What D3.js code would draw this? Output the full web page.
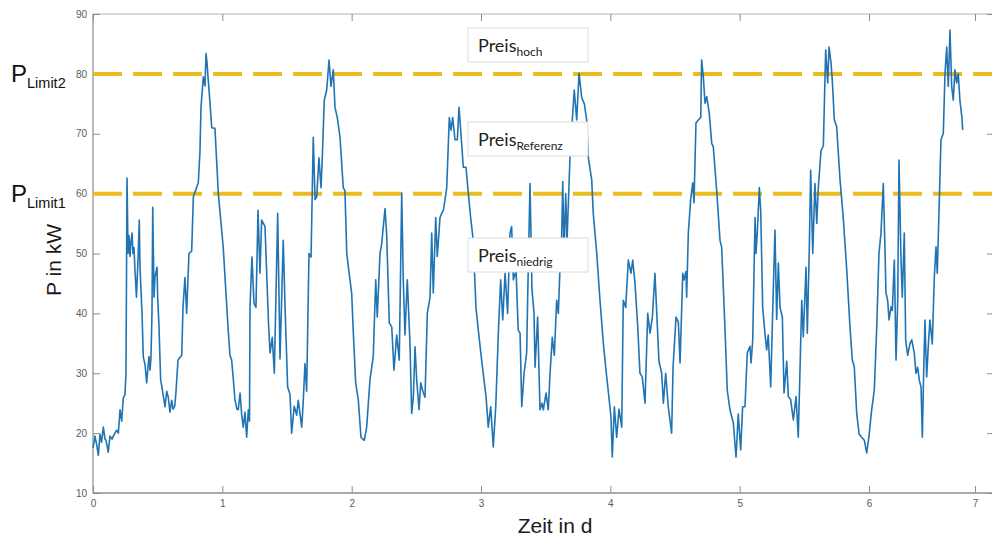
<!DOCTYPE html>
<html>
<head>
<meta charset="utf-8">
<script src="https://cdn.jsdelivr.net/npm/d3@7"></script>
<style>
    html, body { margin: 0; padding: 0; background: #fff; }
    .chart { width: 992px; height: 537px; }
</style>
</head>
<body>
<div class="chart"></div>
<script>
// Lastgang: Zeit in Tagen / Leistung in kW
var timeDays = [
    0.000, 0.015, 0.029, 0.041, 0.054, 0.066, 0.080, 0.093, 0.101, 0.118,
    0.131, 0.147, 0.157, 0.170, 0.183, 0.196, 0.209, 0.222, 0.234, 0.247,
    0.255, 0.263, 0.271, 0.278, 0.286, 0.294, 0.302, 0.309, 0.317, 0.325,
    0.336, 0.348, 0.358, 0.363, 0.371, 0.379, 0.389, 0.402, 0.415, 0.425,
    0.433, 0.441, 0.448, 0.456, 0.462, 0.472, 0.479, 0.495, 0.500, 0.510,
    0.523, 0.534, 0.557, 0.570, 0.582, 0.595, 0.609, 0.619, 0.632, 0.642,
    0.657, 0.686, 0.696, 0.711, 0.724, 0.742, 0.763, 0.776, 0.814, 0.827,
    0.835, 0.853, 0.866, 0.874, 0.881, 0.891, 0.905, 0.918, 0.943, 0.969,
    1.007, 1.046, 1.059, 1.072, 1.085, 1.098, 1.113, 1.123, 1.137, 1.150,
    1.162, 1.175, 1.188, 1.201, 1.210,
    1.214, 1.229, 1.245, 1.260, 1.276, 1.291, 1.304, 1.330, 1.343, 1.357,
    1.369, 1.386, 1.402, 1.428, 1.446, 1.471, 1.485, 1.505, 1.523, 1.536,
    1.556, 1.575, 1.587, 1.614, 1.626, 1.639, 1.652, 1.670, 1.686, 1.703,
    1.717, 1.730, 1.747, 1.763, 1.773, 1.788, 1.807, 1.825, 1.840, 1.858,
    1.871, 1.889, 1.910, 1.935, 1.948, 1.962, 1.987, 2.000, 2.013, 2.031,
    2.051, 2.072, 2.098, 2.116, 2.142, 2.167, 2.186, 2.198, 2.219, 2.232,
    2.258, 2.271, 2.291, 2.310, 2.327, 2.348, 2.368, 2.387, 2.399, 2.412,
    2.430, 2.451, 2.464, 2.477, 2.490, 2.503, 2.521, 2.534, 2.554, 2.567,
    2.585, 2.606, 2.619, 2.631, 2.650, 2.662, 2.683, 2.696, 2.709, 2.722,
    2.735, 2.755, 2.768, 2.781, 2.799, 2.817, 2.830, 2.845, 2.863, 2.884,
    2.902, 2.920, 2.940, 2.961, 2.979, 3.005, 3.023, 3.039, 3.056, 3.075,
    3.095, 3.114, 3.134, 3.152, 3.168, 3.186, 3.206, 3.224, 3.237, 3.250,
    3.271, 3.288, 3.302, 3.315, 3.333, 3.353, 3.363,
    3.379, 3.394, 3.410, 3.418, 3.438, 3.456, 3.472, 3.482, 3.503, 3.520,
    3.534, 3.551, 3.567, 3.585, 3.598, 3.611, 3.621, 3.632, 3.642, 3.655,
    3.665, 3.688, 3.706, 3.721, 3.740, 3.758, 3.779, 3.799, 3.817, 3.830,
    3.856, 3.868, 3.895, 3.920, 3.946, 3.964, 3.984, 4.005, 4.015, 4.031,
    4.049, 4.067, 4.088, 4.100, 4.119, 4.139, 4.160, 4.173, 4.191, 4.212,
    4.229, 4.247, 4.268, 4.289, 4.307, 4.325, 4.345, 4.359, 4.376, 4.397,
    4.410, 4.428, 4.448, 4.474, 4.485,
    4.508, 4.526, 4.539, 4.560, 4.570, 4.585, 4.590, 4.603, 4.621, 4.637,
    4.647, 4.662, 4.680, 4.699, 4.706, 4.719, 4.732, 4.745, 4.765, 4.784,
    4.796, 4.822, 4.848, 4.861, 4.887, 4.904, 4.925, 4.951, 4.972, 4.989,
    5.008, 5.023, 5.041, 5.059, 5.080, 5.088, 5.101, 5.119, 5.126, 5.136,
    5.152, 5.163, 5.178, 5.196, 5.209, 5.221, 5.240, 5.255, 5.273, 5.286,
    5.299, 5.312, 5.330, 5.343, 5.364, 5.376, 5.394, 5.415, 5.436, 5.453,
    5.467, 5.480, 5.492, 5.513, 5.523, 5.538, 5.549, 5.565, 5.582, 5.596,
    5.608, 5.629, 5.647, 5.665, 5.681, 5.691, 5.706, 5.716, 5.732, 5.750,
    5.776, 5.801, 5.828, 5.853, 5.871, 5.886, 5.905, 5.923, 5.943, 5.964,
    5.982, 6.000, 6.025, 6.050, 6.073, 6.094, 6.113, 6.135, 6.151, 6.160,
    6.176, 6.189, 6.208, 6.220, 6.239, 6.255, 6.271, 6.283, 6.302, 6.314,
    6.333, 6.346, 6.365, 6.387, 6.403, 6.427, 6.443, 6.459, 6.475, 6.491,
    6.503, 6.516, 6.528, 6.544, 6.559, 6.575, 6.597, 6.616, 6.632, 6.644,
    6.660, 6.679, 6.701, 6.717, 6.733, 6.748, 6.764, 6.780, 6.795, 6.811,
    6.827, 6.842, 6.858, 6.875, 6.884
];
var powerKW = [
    17.5, 19.5, 18, 16.3, 19.8, 18.5, 21, 19, 18.8, 16.8,
    19.5, 19, 19.5, 20, 20.5, 20, 23.9, 22, 25.9, 26.4,
    30, 62.6, 50, 53, 49.5, 52, 53.4, 50, 51, 47,
    42.7, 49, 55.6, 48, 44, 40, 32.7, 31.5, 28.4, 31,
    32.8, 30.5, 32.5, 40, 57.7, 42.7, 46, 47.7, 42.7, 38,
    28.9, 27.5, 24.4, 27, 26, 23.5, 25.5, 24, 24.5, 27,
    32.2, 33, 41, 46, 40, 50, 50.4, 59.5, 61.8, 67,
    74.4, 79.5, 78, 83.4, 82, 79, 75, 71, 70.9, 60,
    51, 37, 33, 32.2, 29, 25.5, 24, 23.9, 26.7, 23,
    21, 23.5, 19.3, 23.9, 22,
    41, 49.4, 41.7, 41, 57.2, 46.7, 55.6, 54.5, 46.7, 38.4,
    33.4, 36, 30, 56.7, 32.4, 52.2, 41, 27.7, 26.5, 20,
    24.5, 23, 25.5, 21, 25.5, 31.6, 27, 50, 49.4, 69.4,
    59, 59.5, 66, 61, 66, 75.6, 77.3, 82.3, 77.9, 80.7,
    74.4, 72.7, 69.4, 61, 60.5, 50, 45.6, 43.4, 36.7, 28.4,
    25.6, 19.3, 18.8, 21, 29, 32.8, 45.6, 39.4, 50, 51.6,
    57.5, 53, 38.4, 37.7, 30.5, 36.4, 32.2, 60.1, 45.6, 36.4,
    45.6, 34.9, 23.3, 26.1, 34.4, 28.8, 23.9, 28.4, 26.7, 26,
    40, 42.7, 53.4, 43.4, 56, 49.5, 56, 56.7, 57.2, 59,
    61, 72.7, 70.6, 72.7, 69, 69, 74.4, 70, 64.4, 64.4,
    60, 56, 52.2, 41, 37.2, 32.2, 28.9, 26.1, 21, 24.4,
    17.7, 24.4, 36.7, 45.6, 38.9, 46.7, 40, 53.4, 54.5, 45.6,
    47.2, 37.2, 36.7, 24.4, 30, 33.4, 45,
    61.7, 44, 40, 31, 39.4, 23.9, 25, 23.9, 26.7, 23.9,
    30, 36, 33, 42.2, 40, 47.7, 50, 62, 50, 60,
    52, 66, 72.3, 77.3, 72.3, 80.1, 76, 75, 72.3, 66,
    62.3, 56.7, 50, 42.2, 35, 31, 27, 22.7, 16, 24.4,
    19.3, 24, 21, 42.2, 41, 48.9, 46.7, 48.9, 45, 37.7,
    30, 29.4, 25, 40, 36.7, 39.4, 46.7, 40, 32, 30,
    25, 30, 24.4, 20, 31,
    39.4, 38.5, 31.7, 46.7, 45.6, 47, 42.7, 53.4, 59, 61.8,
    58.5, 71.8, 72.3, 72.7, 82.3, 79.5, 75.1, 76.2, 73.4, 68.4,
    67.8, 60.6, 52.2, 51, 37.2, 27.2, 23.9, 21.7, 16, 23.2,
    17.2, 24.4, 24.4, 33.4, 34.5, 31.7, 35.6, 56, 50, 53.4,
    61, 57, 41, 36.5, 33.9, 36.4, 27.7, 40, 53.9, 39,
    48.4, 41, 39.4, 26.7, 32, 26.1, 25.6, 22.2, 26.1, 19.3,
    31, 42.2, 36.1, 47.7, 36.7, 50.4, 63.9, 50, 61.7, 55,
    61, 67.2, 68, 84, 78.5, 84.5, 81.9, 79, 72.3, 71.2,
    62.3, 56, 47.2, 37.7, 32.2, 31.1, 23.3, 19.9, 19.3, 18.8,
    16.7, 19.5, 23.9, 27.2, 37.7, 50, 53.4, 61.7, 50.6, 43.4,
    42.2, 38.9, 41.1, 40.5, 48.9, 32.2, 42.2, 65.6, 48.9, 42.7,
    53.4, 35.5, 33, 35, 35.6, 33.4, 30, 31, 28.8, 27.7,
    19.3, 30.5, 38.9, 29.4, 34.4, 38.9, 34.9, 46, 51.1, 46.7,
    56.7, 69, 70.1, 80.1, 84.5, 77.9, 87.3, 77.9, 75.6, 80.7,
    78.5, 80, 75.5, 73, 70.6
];

var xTickValues = [0, 1, 2, 3, 4, 5, 6, 7];
var yTickValues = [10, 20, 30, 40, 50, 60, 70, 80, 90];
var limitValues = [80, 60];
var limitNames = ['Limit2', 'Limit1'];
var priceNames = ['hoch', 'Referenz', 'niedrig'];

var svgWidth = 992,
    svgHeight = 537;
// Plotbereich
var leftMove = 93,
    topMove = 14,
    plotBottom = 493,
    plotRight = 993;

var axisColor = '#9a9a9a',
    labelFont = '"Liberation Sans", Arial, sans-serif';

var svg = d3.select('.chart')
    .append('svg')
    .attr('width', svgWidth)
    .attr('height', svgHeight)
    .style('font-family', labelFont);

// x: im Bild liegen Tag 6..7 enger als die anderen Tage
var xScale = d3.scaleLinear()
    .domain([0, 6, 7])
    .range([leftMove, 869, 975]);
var yScale = d3.scaleLinear()
    .domain([10, 90])
    .range([plotBottom, topMove]);

// Rahmen
svg.append('rect')
    .attr('x', leftMove)
    .attr('y', topMove)
    .attr('width', plotRight - leftMove)
    .attr('height', plotBottom - topMove)
    .style('fill', 'none')
    .style('stroke', '#b4b4b4');
svg.append('line')
    .attr('x1', leftMove).attr('x2', plotRight)
    .attr('y1', plotBottom).attr('y2', plotBottom)
    .style('stroke', axisColor)
    .style('stroke-width', 1.5);
svg.append('line')
    .attr('x1', leftMove).attr('x2', leftMove)
    .attr('y1', topMove).attr('y2', plotBottom)
    .style('stroke', axisColor);

// Achsen (Ticks nach innen wie bei MATLAB)
var xAxis = d3.axisBottom(xScale)
    .tickValues(xTickValues)
    .tickFormat(d3.format('d'))
    .tickSizeInner(-7)
    .tickSizeOuter(0)
    .tickPadding(7);
svg.append('g')
    .classed('axis-container xaxis', true)
    .attr('transform', 'translate(0,' + plotBottom + ')')
    .call(xAxis);

var xAxisTop = d3.axisTop(xScale)
    .tickValues(xTickValues)
    .tickSizeInner(-7)
    .tickSizeOuter(0)
    .tickFormat('');
svg.append('g')
    .classed('axis-container xaxis-top', true)
    .attr('transform', 'translate(0,' + topMove + ')')
    .call(xAxisTop);

var yAxis = d3.axisLeft(yScale)
    .tickValues(yTickValues)
    .tickFormat(d3.format('d'))
    .tickSizeInner(-7)
    .tickSizeOuter(0)
    .tickPadding(6);
svg.append('g')
    .classed('axis-container yaxis', true)
    .attr('transform', 'translate(' + leftMove + ',0)')
    .call(yAxis);

var yAxisRight = d3.axisRight(yScale)
    .tickValues(yTickValues)
    .tickSizeInner(-6)
    .tickSizeOuter(0)
    .tickFormat('');
svg.append('g')
    .classed('axis-container yaxis-right', true)
    .attr('transform', 'translate(' + plotRight + ',0)')
    .call(yAxisRight);

svg.selectAll('.axis-container .domain').remove();
svg.selectAll('.axis-container .tick line')
    .style('stroke', '#8c8c8c');
svg.selectAll('.axis-container .tick text')
    .style('font-family', labelFont)
    .style('font-size', '10px')
    .style('fill', '#5a5a5a');

// Grenzwerte P_Limit1 / P_Limit2
svg.append('g')
    .classed('limit-container', true)
    .selectAll('line')
    .data(limitValues)
    .enter()
    .append('line')
    .attr('x1', xScale(0))
    .attr('x2', svgWidth)
    .attr('y1', function(d) { return yScale(d); })
    .attr('y2', function(d) { return yScale(d); })
    .style('stroke', '#ebbc1e')
    .style('stroke-width', 4)
    .style('stroke-dasharray', '29,11');

// Lastgang
var series = timeDays.map(function(t, i) {
    return [t, powerKW[i]];
});
var line = d3.line()
    .x(function(d) { return xScale(d[0]); })
    .y(function(d) { return yScale(d[1]); });
svg.append('path')
    .datum(series)
    .attr('d', line)
    .style('fill', 'none')
    .style('stroke', '#2074b3')
    .style('stroke-width', 1.6)
    .style('stroke-linejoin', 'round');

// Preis-Kästen
var boxLeft = 468,
    boxWidth = 120,
    boxHeight = 34,
    boxTops = [28, 122, 238];
var boxes = svg.append('g')
    .classed('price-container', true)
    .selectAll('g')
    .data(priceNames)
    .enter()
    .append('g')
    .attr('transform', function(d, i) {
        return 'translate(' + boxLeft + ',' + boxTops[i] + ')';
    });
boxes.append('rect')
    .attr('width', boxWidth)
    .attr('height', boxHeight)
    .style('fill', '#fff')
    .style('stroke', '#dcdcdc');
var boxText = boxes.append('text')
    .attr('x', 10)
    .attr('y', 24)
    .style('font-family', 'Lato, "Open Sans", sans-serif')
    .style('font-size', '18px')
    .style('fill', '#222');
boxText.append('tspan').text('Preis');
boxText.append('tspan')
    .attr('dy', 4)
    .style('font-size', '12px')
    .text(function(d) { return d; });

// Beschriftung der Grenzwerte links
var limitText = svg.append('g')
    .classed('limit-labels', true)
    .selectAll('text')
    .data(limitValues)
    .enter()
    .append('text')
    .attr('x', 11)
    .attr('y', function(d) { return yScale(d) + 8; })
    .style('font-size', '24px')
    .style('fill', '#111');
limitText.append('tspan').text('P');
limitText.append('tspan')
    .attr('dy', 6)
    .style('font-size', '14.5px')
    .text(function(d, i) { return limitNames[i]; });

// Achsentitel
svg.append('text')
    .attr('transform', 'translate(61,260) rotate(-90)')
    .attr('text-anchor', 'middle')
    .style('font-size', '21px')
    .style('fill', '#1a1a1a')
    .text('P in kW');
svg.append('text')
    .attr('x', 555)
    .attr('y', 533)
    .attr('text-anchor', 'middle')
    .style('font-size', '21px')
    .style('fill', '#1a1a1a')
    .text('Zeit in d');
</script>
</body>
</html>
